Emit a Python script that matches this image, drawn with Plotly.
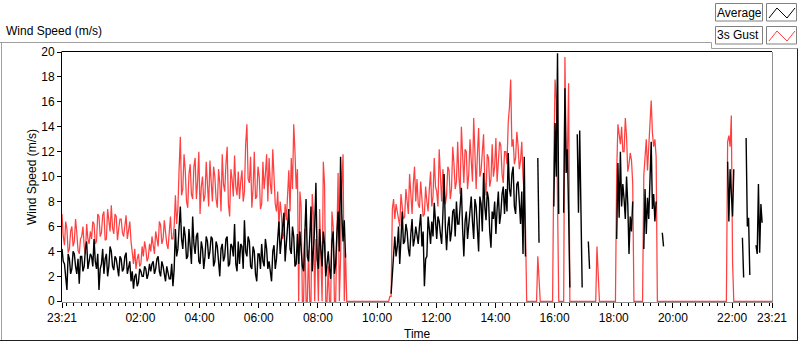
import plotly.graph_objects as go
from datetime import datetime, timedelta

# ---------------- data ----------------
# Two readings per 5-minute slot (at :00 and :02.5 of the slot), 23:21 -> 23:21 next day
start_time = "2024-01-01 23:21"
step_minutes = 5
N = None

gust_a = [
    7.0, 4.5, 5.8, 4.2, 6.0, 4.8, 5.5, 3.8, 5.2, 4.4, 6.2, 4.6,
    5.0, 6.2, 4.8, 6.8, 5.5, 7.2, 5.0, 6.5, 7.7, 5.4, 6.8, 5.8,
    6.6, 5.2, 6.9, 5.8, 4.8, 3.0, 2.6, 3.8, 3.0, 3.6, 4.2, 3.5,
    4.0, 4.6, 5.6, 4.4, 6.1, 5.0, 5.5, 4.2, 6.8, 5.0, 8.5, 7.4,
    13.2, 9.0, 10.5, 7.5, 11.0, 8.2, 11.5, 9.6, 7.0, 10.0, 8.5, 9.8,
    11.3, 8.0, 10.0, 7.5, 9.5, 11.8, 8.8, 12.4, 6.8, 9.8, 11.7, 8.5,
    8.2, 10.5, 8.8, 14.2, 9.5, 7.5, 12.0, 8.4, 10.0, 7.8, 9.0, 11.8,
    11.5, 8.6, 9.4, 7.2, 6.0, 7.0, 5.5, 6.5, 10.5, 11.5, 14.2, 9.0,
    0, 7.6, 0, 0, 4.1, 0, 6.9, 5.0, 0, 3.0, 11.2, 0,
    2.8, 0, 6.0, 0, 10.3, 3.5, 11.8, 4.0, 0, 0, 0, 0,
    0, 0, 0, 0, 0, 0, 0, 0, 0, 0, 0, 0,
    0, 0.4, 7.4, 6.6, 7.2, 6.0, 7.5, 6.8, 8.0, 10.2, 7.0, 10.8,
    9.8, 7.5, 8.4, 7.0, 8.0, 9.0, 7.6, 11.5, 8.8, 12.2, 8.0, 9.0,
    8.5, 10.5, 9.0, 11.0, 9.6, 10.0, 14.0, 9.5, 12.0, 10.2, 11.5, 14.7,
    9.0, 13.9, 10.5, 13.4, 8.5, 11.5, 9.8, 10.0, 13.1, 11.0, 12.5, 9.5,
    12.0, 14.3, 17.8, 13.0, 11.5, 12.5, 11.3, 10.0, 6.0, 0, 0, 0,
    0, 3.6, 0, 0, 0, 0, 0, 0, 17.8, 5.1, 0, 0,
    19.6, 11.5, 0, 0, 0, 0, 0, 0, 0, 0, 0, 0,
    0, 4.4, 0, 0, 0, 0, 0, 0, 0, 10.4, 13.4, 14.0,
    12.0, 13.2, 11.0, 11.3, 0, 0, 0, 0, 10.1, 13.0, 12.2, 16.1,
    12.4, 11.6, 0, 0, 0, 0, 0, 0, 0, 0, 0, 0,
    0, 0, 0, 0, 0, 0, 0, 0, 0, 0, 0, 0,
    0, 0, 0, 0, 0, 0, 12.8, 12.4, 3.2, 0, 0, 0,
    0, 0, 0, 0, 0, 0, 0, 0, 0, 0, 0, 0,
    0,
]

gust_b = [
    5.2, 6.4, 3.9, 5.6, 4.4, 6.6, 4.1, 5.0, 6.0, 3.8, 5.0, 5.6,
    6.4, 4.6, 7.0, 5.2, 6.9, 4.9, 7.4, 5.6, 5.9, 7.0, 4.9, 6.6,
    5.5, 6.2, 5.0, 6.4, 3.6, 4.2, 3.4, 2.8, 4.4, 4.8, 3.2, 4.6,
    5.2, 3.8, 4.8, 6.4, 4.6, 6.5, 4.6, 5.8, 5.0, 6.0, 6.2, 10.6,
    8.5, 11.8, 8.0, 10.2, 8.6, 10.8, 8.2, 12.0, 9.2, 8.0, 11.2, 7.6,
    9.0, 10.8, 8.2, 10.6, 7.2, 9.4, 11.0, 7.8, 10.6, 8.4, 9.2, 10.4,
    9.6, 8.0, 12.6, 9.8, 11.6, 9.0, 8.2, 10.8, 7.4, 11.2, 10.2, 8.0,
    9.4, 12.2, 7.8, 8.8, 8.0, 5.0, 7.8, 8.6, 7.2, 9.0, 12.0, 10.6,
    8.8, 0, 5.8, 0, 0, 8.6, 0, 3.8, 7.4, 0, 9.4, 0,
    0, 7.2, 0, 4.8, 0, 9.2, 0, 0, 0, 0, 0, 0,
    0, 0, 0, 0, 0, 0, 0, 0, 0, 0, 0, 0,
    0, 0.4, 8.2, 7.8, 6.4, 8.6, 6.6, 9.0, 7.0, 8.0, 9.4, 8.0,
    7.8, 9.6, 6.8, 9.2, 7.2, 10.4, 8.4, 9.2, 7.6, 9.8, 10.6, 7.8,
    10.8, 8.2, 12.4, 9.0, 12.8, 8.6, 11.0, 12.2, 9.0, 13.0, 9.6, 11.4,
    11.8, 10.0, 12.0, 9.6, 11.8, 9.2, 12.6, 10.8, 9.6, 12.8, 10.2, 12.0,
    11.0, 15.6, 12.4, 11.0, 13.6, 10.6, 12.8, 8.6, 0, 0, 0, 0,
    0, 1.5, 0, 0, 0, 0, 0, 11.2, 16.2, 0, 0, 0,
    12.0, 17.5, 0, 0, 0, 0, 0, 0, 0, 0, 0, 0,
    0, 2.2, 0, 0, 0, 0, 0, 0, 0, 14.2, 12.6, 12.0,
    14.7, 10.4, 11.9, 9.5, 0, 0, 0, 0, 12.0, 10.5, 14.3, 13.5,
    13.0, 0, 0, 0, 0, 0, 0, 0, 0, 0, 0, 0,
    0, 0, 0, 0, 0, 0, 0, 0, 0, 0, 0, 0,
    0, 0, 0, 0, 0, 0, 13.3, 14.9, 0, 0, 0, 0,
    0, 0, 0, 0, 0, 0, 0, 0, 0, 0, 0, 0,
]

avg_a = [
    4.2, 3.0, 0.9, 3.4, 2.6, 3.8, 2.2, 1.4, 3.6, 2.8, 4.8, 3.2,
    3.6, 5.0, 2.6, 0.9, 3.0, 2.2, 3.8, 2.8, 4.0, 2.5, 3.4, 2.0,
    3.4, 2.6, 3.9, 2.8, 1.6, 1.0, 2.2, 1.5, 2.4, 2.0, 2.6, 2.2,
    2.4, 3.2, 2.6, 3.6, 2.0, 2.8, 1.6, 2.4, 1.8, 1.2, 5.8, 4.2,
    7.6, 4.2, 5.2, 3.6, 4.6, 6.8, 3.8, 5.5, 3.0, 4.2, 3.6, 4.8,
    4.0, 5.0, 3.2, 4.4, 2.0, 4.6, 3.6, 5.2, 3.0, 4.4, 6.2, 2.4,
    3.0, 4.4, 6.5, 3.6, 4.8, 2.6, 4.0, 1.6, 3.8, 4.6, 2.8, 4.2,
    3.2, 1.6, 4.5, 3.4, 6.4, 5.0, 7.1, 4.6, 7.4, 3.8, 5.2, 3.0,
    3.0, 4.5, 2.4, 8.2, 3.2, 7.6, 4.0, 9.5, 2.6, 4.2, 5.6, 2.0,
    4.0, 1.8, 5.6, 3.0, 7.2, 11.6, 4.8, 3.5, N, N, N, N,
    N, N, N, N, N, N, N, N, N, N, N, N,
    N, N, 2.0, 5.2, 4.4, 3.0, 7.2, 4.8, 5.6, 3.6, 6.6, 5.0,
    5.2, 6.0, 4.4, 1.2, 3.6, 5.8, 6.4, 7.9, 5.0, 6.4, 4.6, 10.2,
    4.1, 6.8, 5.6, 7.4, 8.0, 6.2, 9.1, 3.6, 7.2, 6.0, 8.4, 5.0,
    7.6, 4.0, 7.8, 10.3, 6.5, 8.2, 4.3, 6.6, 5.4, 8.8, 7.0, 9.2,
    9.0, 11.9, 8.4, 10.8, 7.0, 9.6, 6.2, 3.8, 3.6, N, N, N,
    N, 11.5, N, N, N, N, N, N, 14.3, 19.9, N, N,
    17.1, 12.2, 1.1, N, N, 13.4, 13.7, 1.1, N, N, 2.6, N,
    N, N, N, N, N, N, N, N, N, 5.0, 6.7, 7.6,
    8.2, 10.0, 3.8, 5.6, N, N, N, N, 4.2, 5.4, 6.6, 12.8,
    8.6, 8.0, N, N, 4.4, N, N, N, N, N, N, N,
    N, N, N, N, N, N, N, N, N, N, N, N,
    N, N, N, N, N, N, 11.2, 10.6, 6.8, N, N, N,
    5.1, N, 6.0, 2.1, N, N, 3.8, 3.9, 6.3, N, N, N,
    N,
]

avg_b = [
    3.2, 2.0, 3.8, 2.2, 4.0, 2.8, 3.4, 3.6, 2.4, 4.2, 2.6, 3.8,
    2.8, 3.2, 3.8, 2.6, 4.2, 3.4, 2.0, 4.4, 2.8, 3.6, 2.6, 3.6,
    2.4, 3.6, 2.2, 3.2, 2.4, 2.0, 1.2, 2.6, 2.0, 2.8, 1.8, 3.0,
    3.0, 2.2, 3.4, 2.4, 3.2, 2.0, 2.8, 1.8, 3.0, 2.6, 3.6, 5.8,
    5.0, 6.0, 3.4, 5.8, 3.0, 4.6, 5.2, 3.2, 4.8, 2.6, 5.2, 3.4,
    5.2, 2.8, 4.8, 3.0, 4.2, 3.2, 5.0, 2.8, 4.6, 3.6, 3.0, 4.8,
    4.6, 2.6, 4.0, 5.2, 2.8, 4.4, 2.2, 3.8, 2.6, 3.2, 5.0, 2.6,
    2.4, 4.0, 2.6, 5.0, 3.8, 6.2, 3.2, 5.8, 4.2, 6.0, 2.8, 5.4,
    5.6, 2.8, 5.0, 3.6, 5.2, 2.4, 6.0, 3.4, 5.8, 2.8, 4.6, 3.2,
    2.6, 4.8, 2.2, 5.4, 4.0, 7.0, 6.5, N, N, N, N, N,
    N, N, N, N, N, N, N, N, N, N, N, N,
    N, 0.6, 4.2, 3.6, 6.0, 5.0, 4.6, 6.2, 4.2, 5.4, 4.4, 6.0,
    4.6, 7.0, 5.6, 3.4, 6.8, 4.6, 5.2, 6.0, 6.8, 5.4, 7.0, 6.0,
    6.0, 4.8, 7.2, 5.2, 6.2, 7.6, 5.8, 6.4, 5.0, 7.4, 6.4, 8.2,
    5.8, 8.4, 5.6, 7.6, 8.8, 5.6, 7.2, 8.0, 7.4, 6.2, 8.6, 7.0,
    7.2, 9.0, 10.2, 7.6, 9.4, 8.0, 8.8, 11.6, N, N, N, N,
    N, 4.7, N, N, N, N, N, 7.6, 10.0, 7.0, N, 7.1,
    10.3, 7.1, N, N, N, 7.1, 7.4, N, N, 4.8, N, N,
    N, N, N, N, N, N, N, N, N, 11.1, 12.0, 9.4,
    6.6, 7.8, 6.8, 8.0, N, N, N, N, 9.0, 8.3, 10.2, 7.4,
    6.4, N, N, 5.5, N, N, N, N, N, N, N, N,
    N, N, N, N, N, N, N, N, N, N, N, N,
    N, N, N, N, N, N, 6.4, 8.0, 10.6, N, N, N,
    1.9, 13.1, 6.7, N, N, 4.5, 9.4, 7.8, N, N, N, N,
]

tick_labels = ["23:21", "02:00", "04:00", "06:00", "08:00", "10:00",
               "12:00", "14:00", "16:00", "18:00", "20:00", "22:00", "23:21"]
y_ticks = [0, 2, 4, 6, 8, 10, 12, 14, 16, 18, 20]

# ---------------- build ----------------
t0 = datetime.strptime(start_time, "%Y-%m-%d %H:%M")
t_end = t0 + timedelta(hours=24)


def interleave(a, b):
    xs, ys = [], []
    for i, va in enumerate(a):
        xs.append(t0 + timedelta(minutes=step_minutes * i))
        ys.append(va)
        if i < len(b):
            xs.append(t0 + timedelta(minutes=step_minutes * i + step_minutes / 2))
            ys.append(b[i])
    return xs, ys


gx, gy = interleave(gust_a, gust_b)
ax_, ay = interleave(avg_a, avg_b)

tick_vals = []
for lab in tick_labels:
    hh, mm = map(int, lab.split(":"))
    d = t0.replace(hour=hh, minute=mm)
    if d < t0 or (tick_vals and d <= tick_vals[-1]):
        d += timedelta(days=1)
    tick_vals.append(d)

FONT = "Liberation Sans"
RED = "#ff4040"

fig = go.Figure()
fig.add_trace(go.Scatter(x=gx, y=gy, mode="lines", name="3s Gust",
                         line=dict(color=RED, width=1.25, shape="linear"), connectgaps=False))
fig.add_trace(go.Scatter(x=ax_, y=ay, mode="lines", name="Average",
                         line=dict(color="#000000", width=1.4, shape="linear"), connectgaps=False))

L, R, T, B = 62, 772, 52, 302
W, H = 800, 342


def px(x):
    return (x - L) / (R - L)


def py(y):
    return (B - y) / (B - T)


shapes = []


def line(x0, y0, x1, y1, color, w=1):
    shapes.append(dict(type="line", xref="paper", yref="paper",
                       x0=px(x0), y0=py(y0), x1=px(x1), y1=py(y1),
                       line=dict(color=color, width=w), layer="above"))


# outer frame
line(0, 42.5, 711.5, 42.5, "#a0a0a0")
line(711.5, 42.5, 711.5, 48.5, "#a0a0a0")
line(711.5, 48.5, 797.5, 48.5, "#a0a0a0")
line(1.5, 42.5, 1.5, 341, "#a0a0a0")
line(0, 340.5, 798, 340.5, "#202020")
line(797.5, 48.5, 797.5, 341, "#202020")
# plot border
line(L, T - 0.5, R, T - 0.5, "#000000")
line(L - 0.5, T - 0.5, L - 0.5, B, "#000000")
line(R + 0.5, T, R + 0.5, B + 0.5, "#909090")
line(L, B + 0.5, R + 0.5, B + 0.5, "#909090")

# legend boxes
for (ytop, color) in [(3.5, "#000000"), (26.5, RED)]:
    shapes.append(dict(type="rect", xref="paper", yref="paper",
                       x0=px(715.5), x1=px(762.5), y0=py(ytop), y1=py(ytop + 17.5),
                       line=dict(color="#808080", width=1), fillcolor="white", layer="above"))
    shapes.append(dict(type="rect", xref="paper", yref="paper",
                       x0=px(766.5), x1=px(796.5), y0=py(ytop), y1=py(ytop + 17.5),
                       line=dict(color="#808080", width=1), fillcolor="white", layer="above"))
    pts = [(769, ytop + 14.5), (777, ytop + 4.5), (787, ytop + 14.5), (795, ytop + 4.5)]
    path = "M " + " L ".join(f"{px(a):.5f},{py(b):.5f}" for a, b in pts)
    shapes.append(dict(type="path", xref="paper", yref="paper", path=path,
                       line=dict(color=color, width=1), layer="above"))

annotations = [
    dict(text="Wind Speed (m/s)", xref="paper", yref="paper", x=px(4), y=py(31),
         xanchor="left", yanchor="middle", showarrow=False,
         font=dict(family=FONT, size=12, color="#000")),
    dict(text="Wind Speed (m/s)", xref="paper", yref="paper", x=px(32), y=py(177),
         xanchor="center", yanchor="middle", textangle=-90, showarrow=False,
         font=dict(family=FONT, size=12, color="#000")),
    dict(text="Time", xref="paper", yref="paper", x=px(417), y=py(334),
         xanchor="center", yanchor="middle", showarrow=False,
         font=dict(family=FONT, size=12, color="#000")),
    dict(text="Average", xref="paper", yref="paper", x=px(739), y=py(12.5),
         xanchor="center", yanchor="middle", showarrow=False,
         font=dict(family=FONT, size=12, color="#000")),
    dict(text="3s Gust", xref="paper", yref="paper", x=px(738), y=py(35.5),
         xanchor="center", yanchor="middle", showarrow=False,
         font=dict(family=FONT, size=12, color="#000")),
]

fig.update_layout(
    width=W, height=H, autosize=False,
    margin=dict(l=L, r=W - R, t=T, b=H - B, pad=0),
    paper_bgcolor="white", plot_bgcolor="white",
    showlegend=False,
    font=dict(family=FONT, size=12, color="#000"),
    shapes=shapes, annotations=annotations,
    xaxis=dict(type="date", range=[t0, t_end], tickvals=tick_vals, ticktext=tick_labels,
               ticks="outside", ticklen=5, tickcolor="#000", tickwidth=1,
               showgrid=False, zeroline=False, showline=False,
               tickfont=dict(family=FONT, size=12, color="#000"),
               minor=dict(ticks="outside", ticklen=3, tickcolor="#000",
                          dtick=15 * 60 * 1000, tick0="2024-01-01 00:00", showgrid=False)),
    yaxis=dict(range=[-0.06, 20.0], tickvals=y_ticks, ticks="outside", ticklen=4,
               tickcolor="#000", showgrid=False, zeroline=False, showline=False,
               tickfont=dict(family=FONT, size=12, color="#000")),
)

fig.write_html("out.html", config={"displayModeBar": False},
               post_script="document.body.style.margin='0';document.body.style.overflow='hidden';")
